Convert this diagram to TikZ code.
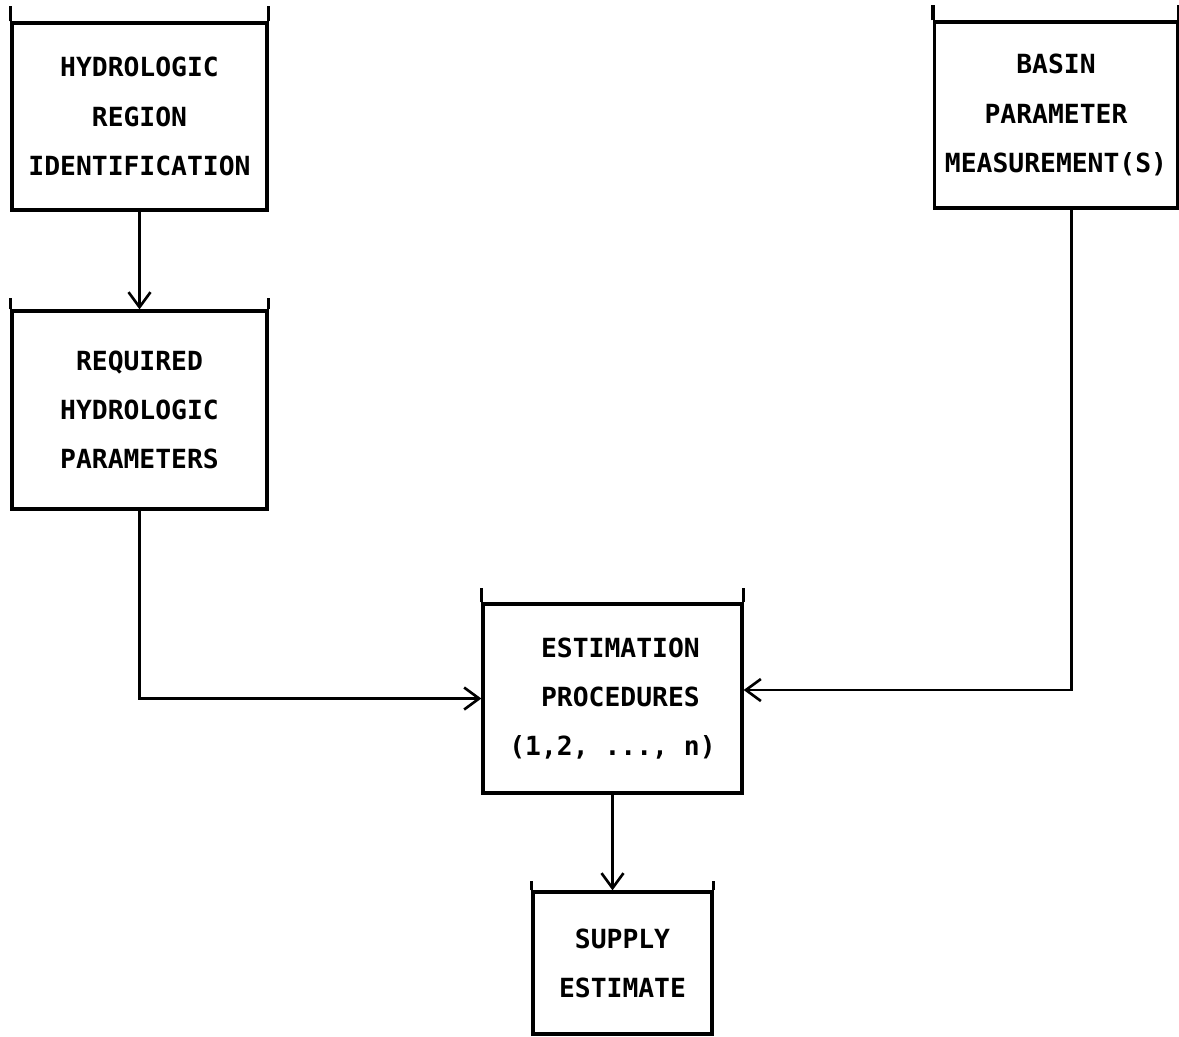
\documentclass[tikz,border=0pt]{standalone}
\usepackage{fontspec}
\setmonofont{DejaVu Sans Mono}
\usetikzlibrary{arrows.meta,positioning}

\begin{document}
\begin{tikzpicture}[x=0.02cm,y=-0.02cm,
      box/.style={draw,line width=1.9pt,inner sep=0pt,align=center,
        font=\ttfamily\bfseries\fontsize{15}{28}\selectfont},
      arr/.style={-{Straight Barb[length=3mm,width=4.4mm,line width=1.5pt]},line width=1.5pt}
    ]
    \useasboundingbox (0,0) rectangle (1179,1036);
    \node[box,minimum width=5.1cm,minimum height=3.74cm] (hri) at (139.5,116.5) {HYDROLOGIC\\REGION\\IDENTIFICATION};
    \node[box,minimum width=5.1cm,minimum height=3.96cm] (rhp) at (139.5,410) {REQUIRED\\HYDROLOGIC\\PARAMETERS};
    \node[box,minimum width=4.86cm,minimum height=3.72cm] (bpm) at (1056,115) {BASIN\\PARAMETER\\MEASUREMENT(S)};
    \node[box,minimum width=5.18cm,minimum height=3.78cm] (est) at (612.5,698.5) {~ESTIMATION\\~PROCEDURES\\(1,2, ..., n)};
    \node[box,minimum width=3.58cm,minimum height=2.84cm] (sup) at (622.5,963) {SUPPLY\\ESTIMATE};
    % side posts sticking up past the lid
    \foreach \n/\h in {hri/15,rhp/11,bpm/15,est/14,sup/9}
      \draw[line width=1.9pt] (\n.north west) -- ++(0,-\h) (\n.north east) -- ++(0,-\h);
    \draw[arr] (hri.south) -- (rhp.north);
    \draw[arr] (rhp.south) |- (est.west);
    \draw[arr] ([xshift=0.31cm]bpm.south) |- ([yshift=0.17cm]est.east);
    \draw[arr] (est.south) -- (est.south |- sup.north);
  \end{tikzpicture}
\end{document}
